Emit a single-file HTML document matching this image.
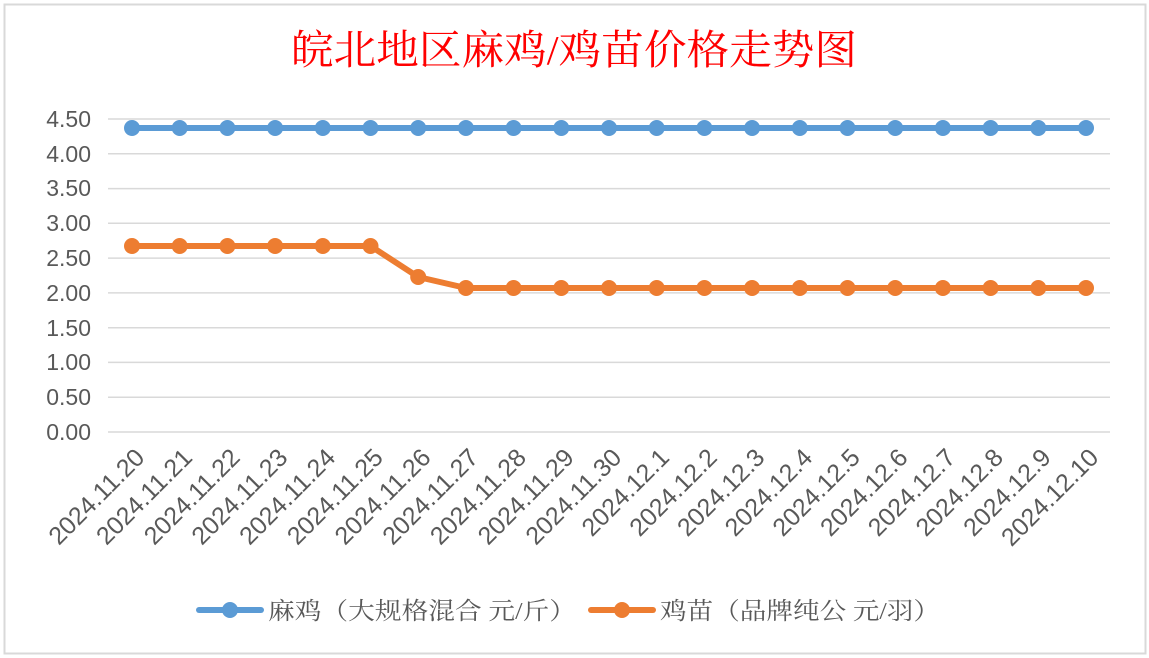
<!DOCTYPE html>
<html><head><meta charset="utf-8"><style>
body{margin:0;background:#fff}
svg{display:block}
</style></head><body>
<svg width="1149" height="658" xmlns="http://www.w3.org/2000/svg">
<rect x="0" y="0" width="1149" height="658" fill="#fff"/>
<rect x="4.5" y="4.5" width="1141" height="649" fill="#fff" stroke="#d9d9d9" stroke-width="2"/>
<text x="574" y="64" text-anchor="middle" font-family="'Liberation Serif','Noto Serif CJK SC',serif" font-size="41" fill="#ff0000" textLength="566" lengthAdjust="spacingAndGlyphs">皖北地区麻鸡/鸡苗价格走势图</text>
<g stroke="#d9d9d9" stroke-width="1.5">
<line x1="108" y1="119" x2="1110" y2="119"/><line x1="108" y1="153.8" x2="1110" y2="153.8"/>
<line x1="108" y1="188.6" x2="1110" y2="188.6"/><line x1="108" y1="223.3" x2="1110" y2="223.3"/>
<line x1="108" y1="258.1" x2="1110" y2="258.1"/><line x1="108" y1="292.9" x2="1110" y2="292.9"/>
<line x1="108" y1="327.7" x2="1110" y2="327.7"/><line x1="108" y1="362.4" x2="1110" y2="362.4"/>
<line x1="108" y1="397.2" x2="1110" y2="397.2"/><line x1="108" y1="432" x2="1110" y2="432"/>
</g>
<g font-family="'Liberation Sans',sans-serif" font-size="23" fill="#595959" text-anchor="end">
<text x="91" y="127">4.50</text><text x="91" y="162">4.00</text><text x="91" y="196">3.50</text>
<text x="91" y="231">3.00</text><text x="91" y="266">2.50</text><text x="91" y="301">2.00</text>
<text x="91" y="336">1.50</text><text x="91" y="370">1.00</text><text x="91" y="405">0.50</text>
<text x="91" y="440">0.00</text>
</g>
<polyline points="132,128 1086,128" fill="none" stroke="#5b9bd5" stroke-width="6"/>
<g fill="#5b9bd5">
<circle cx="132" cy="128" r="8"/><circle cx="179.7" cy="128" r="8"/><circle cx="227.4" cy="128" r="8"/><circle cx="275.1" cy="128" r="8"/><circle cx="322.8" cy="128" r="8"/><circle cx="370.5" cy="128" r="8"/><circle cx="418.2" cy="128" r="8"/><circle cx="465.9" cy="128" r="8"/><circle cx="513.6" cy="128" r="8"/><circle cx="561.3" cy="128" r="8"/><circle cx="609" cy="128" r="8"/><circle cx="656.7" cy="128" r="8"/><circle cx="704.4" cy="128" r="8"/><circle cx="752.1" cy="128" r="8"/><circle cx="799.8" cy="128" r="8"/><circle cx="847.5" cy="128" r="8"/><circle cx="895.2" cy="128" r="8"/><circle cx="942.9" cy="128" r="8"/><circle cx="990.6" cy="128" r="8"/><circle cx="1038.3" cy="128" r="8"/><circle cx="1086" cy="128" r="8"/>
</g>
<polyline points="132,246 370.5,246 418.2,277 465.9,288 1086,288" fill="none" stroke="#ed7d31" stroke-width="6" stroke-linejoin="round"/>
<g fill="#ed7d31">
<circle cx="132" cy="246" r="8"/><circle cx="179.7" cy="246" r="8"/><circle cx="227.4" cy="246" r="8"/><circle cx="275.1" cy="246" r="8"/><circle cx="322.8" cy="246" r="8"/><circle cx="370.5" cy="246" r="8"/><circle cx="418.2" cy="277" r="8"/><circle cx="465.9" cy="288" r="8"/><circle cx="513.6" cy="288" r="8"/><circle cx="561.3" cy="288" r="8"/><circle cx="609" cy="288" r="8"/><circle cx="656.7" cy="288" r="8"/><circle cx="704.4" cy="288" r="8"/><circle cx="752.1" cy="288" r="8"/><circle cx="799.8" cy="288" r="8"/><circle cx="847.5" cy="288" r="8"/><circle cx="895.2" cy="288" r="8"/><circle cx="942.9" cy="288" r="8"/><circle cx="990.6" cy="288" r="8"/><circle cx="1038.3" cy="288" r="8"/><circle cx="1086" cy="288" r="8"/>
</g>
<g font-family="'Liberation Sans',sans-serif" font-size="25" fill="#595959" text-anchor="end">
<text transform="translate(146,459) rotate(-45)">2024.11.20</text>
<text transform="translate(193.7,459) rotate(-45)">2024.11.21</text>
<text transform="translate(241.4,459) rotate(-45)">2024.11.22</text>
<text transform="translate(289.1,459) rotate(-45)">2024.11.23</text>
<text transform="translate(336.8,459) rotate(-45)">2024.11.24</text>
<text transform="translate(384.5,459) rotate(-45)">2024.11.25</text>
<text transform="translate(432.2,459) rotate(-45)">2024.11.26</text>
<text transform="translate(479.9,459) rotate(-45)">2024.11.27</text>
<text transform="translate(527.6,459) rotate(-45)">2024.11.28</text>
<text transform="translate(575.3,459) rotate(-45)">2024.11.29</text>
<text transform="translate(623,459) rotate(-45)">2024.11.30</text>
<text transform="translate(670.7,459) rotate(-45)">2024.12.1</text>
<text transform="translate(718.4,459) rotate(-45)">2024.12.2</text>
<text transform="translate(766.1,459) rotate(-45)">2024.12.3</text>
<text transform="translate(813.8,459) rotate(-45)">2024.12.4</text>
<text transform="translate(861.5,459) rotate(-45)">2024.12.5</text>
<text transform="translate(909.2,459) rotate(-45)">2024.12.6</text>
<text transform="translate(956.9,459) rotate(-45)">2024.12.7</text>
<text transform="translate(1004.6,459) rotate(-45)">2024.12.8</text>
<text transform="translate(1052.3,459) rotate(-45)">2024.12.9</text>
<text transform="translate(1100,459) rotate(-45)">2024.12.10</text>
</g>
<line x1="199" y1="610" x2="261" y2="610" stroke="#5b9bd5" stroke-width="6" stroke-linecap="round"/>
<circle cx="230" cy="610" r="8" fill="#5b9bd5"/>
<text x="268" y="619" font-family="'Liberation Serif','Noto Serif CJK SC',serif" font-size="24" fill="#595959" textLength="308" lengthAdjust="spacingAndGlyphs">麻鸡（大规格混合 元/斤）</text>
<line x1="591" y1="610" x2="653" y2="610" stroke="#ed7d31" stroke-width="6" stroke-linecap="round"/>
<circle cx="622" cy="610" r="8" fill="#ed7d31"/>
<text x="660" y="619" font-family="'Liberation Serif','Noto Serif CJK SC',serif" font-size="24" fill="#595959" textLength="280" lengthAdjust="spacingAndGlyphs">鸡苗（品牌纯公 元/羽）</text>
</svg>
</body></html>
